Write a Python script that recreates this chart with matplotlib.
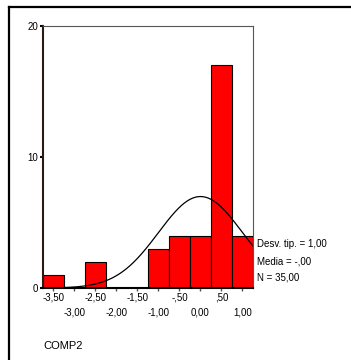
import numpy as np
import matplotlib
matplotlib.use("Agg")
import matplotlib.pyplot as plt
from matplotlib.lines import Line2D

plt.rcParams['font.family'] = ['Liberation Sans', 'DejaVu Sans']

# histogram of COMP2 (bin centres, counts)
bin_centers = [-3.5, -3.0, -2.5, -2.0, -1.5, -1.0, -0.5, 0.0, 0.5, 1.0]
counts = [1, 0, 2, 0, 0, 3, 4, 4, 17, 4]
tick_labels = ["-3,50", "-3,00", "-2,50", "-2,00", "-1,50",
               "-1,00", "-,50", "0,00", ",50", "1,00"]
y_ticks = [0, 10, 20]
std_dev = 1.0
mean = 0.0
n_obs = 35
bin_width = 0.5
stats_lines = ["Desv. tip. = 1,00", "Media = -,00", "N = 35,00"]
var_name = "COMP2"

W, H = 351, 360
fig = plt.figure(figsize=(W / 100, H / 100), dpi=100)

# outer frame (left and top edges only visible)
fig.add_artist(Line2D([9 / W, 9 / W], [0, 1 - 7 / H], color='black', lw=1.6))
fig.add_artist(Line2D([9 / W, 1], [1 - 7 / H, 1 - 7 / H], color='black', lw=1.6))

ax = fig.add_axes([43 / W, 1 - 288 / H, 210 / W, 262 / H])
ax.bar(bin_centers, counts, width=bin_width, color='#ff0000',
       edgecolor='black', linewidth=0.8)

# fitted normal curve scaled to counts
xs = np.linspace(-3.75, 1.25, 300)
dens = n_obs * bin_width * np.exp(-0.5 * ((xs - mean) / std_dev) ** 2) / (std_dev * np.sqrt(2 * np.pi))
ax.plot(xs, dens, color='black', lw=0.9)

ax.set_xlim(-3.75, 1.25)
ax.set_ylim(0, 20)

ax.set_xticks(bin_centers)
ax.set_xticklabels([])
ax.tick_params(axis='x', length=2.5, width=1.0, direction='out', color='#555555')
ax.set_yticks(y_ticks)
ax.set_yticklabels([str(v) for v in y_ticks], fontsize=7)
ax.tick_params(axis='y', length=2.5, width=1.5, pad=1)

# staggered x labels, two rows
trans = ax.get_xaxis_transform()
for i, (x, lab) in enumerate(zip(bin_centers, tick_labels)):
    yy = -0.035 if i % 2 == 0 else -0.095
    ax.text(x, yy, lab, transform=trans, ha='center', va='center', fontsize=7)

for side in ('top', 'right'):
    ax.spines[side].set_color('#555555')
    ax.spines[side].set_linewidth(0.8)
ax.spines['left'].set_color('#2a1a12')
ax.spines['left'].set_linewidth(1.5)
ax.spines['bottom'].set_color('black')
ax.spines['bottom'].set_linewidth(1.5)

for k, line in enumerate(stats_lines):
    fig.text(257 / W, 1 - (244 + 17 * k) / H, line, fontsize=7,
             ha='left', va='center')

fig.text(43 / W, 1 - 346 / H, var_name, fontsize=8, ha='left', va='center')

fig.savefig("out.png", dpi=100)
